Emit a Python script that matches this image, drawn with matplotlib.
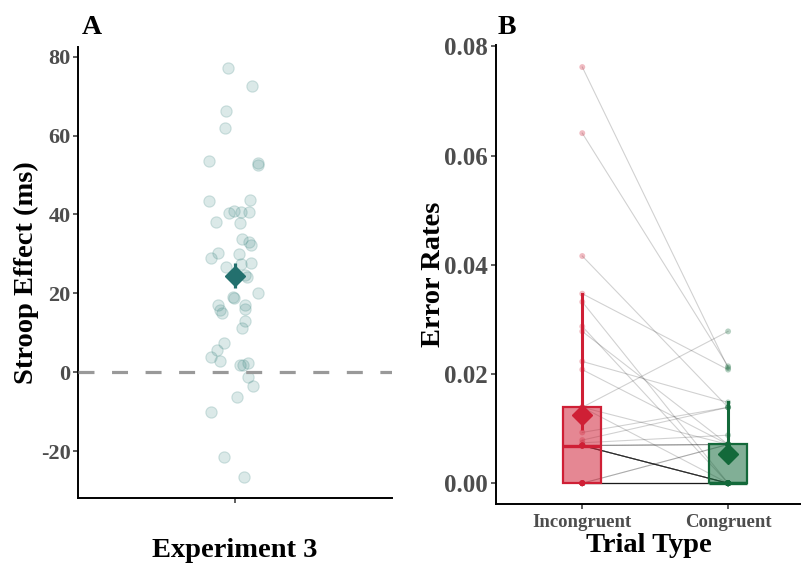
import numpy as np
import matplotlib.pyplot as plt

plt.rcParams['font.family'] = 'Liberation Serif'
plt.rcParams['font.weight'] = 'bold'
plt.rcParams['axes.labelweight'] = 'bold'
plt.rcParams['axes.unicode_minus'] = False

# Panel A: Stroop effect per participant (ms) and horizontal jitter
stroop = [77.1, 72.7, 66.3, 62.0, 53.6, 53.0, 52.5, 43.5, 43.7, 40.5,
          40.8, 40.7, 40.7, 38.2, 37.9, 33.7, 32.9, 32.3, 30.2, 29.0,
          29.9, 26.7, 27.6, 27.5, 24.6, 24.2, 20.2, 19.1, 18.7, 17.0,
          15.9, 15.1, 17.0, 16.0, 13.1, 11.1, 7.3, 5.6, 3.9, 2.9,
          1.8, 1.8, 2.4, -1.2, -3.4, -6.3, -10.1, -21.6, -26.6]
jitter = [-0.027, 0.066, -0.032, -0.036, -0.097, 0.087, 0.089, -0.098, 0.057, -0.023,
          -0.004, 0.024, 0.055, -0.074, 0.019, 0.028, 0.055, 0.060, -0.064, -0.092,
          0.016, -0.032, 0.061, 0.022, 0.038, 0.045, 0.089, -0.009, -0.004, -0.064,
          -0.055, -0.049, 0.038, 0.039, 0.038, 0.029, -0.041, -0.068, -0.091, -0.056,
          0.019, 0.032, 0.049, 0.052, 0.070, 0.010, -0.092, -0.043, 0.036]

# Panel B: error rates per participant (paired)
trial_types = ['Incongruent', 'Congruent']
err_incong = [0.0762, 0.0641, 0.0416, 0.0347, 0.0332, 0.0287, 0.0278, 0.0223, 0.0208, 0.0139,
              0.0139, 0.0139, 0.0093, 0.0079, 0.0074] + [0.0069] * 12 + [0.0] * 13
err_cong = [0.0211, 0.0214, 0.0139, 0.0208, 0.0, 0.0, 0.0071, 0.0148, 0.0071, 0.0278,
            0.0, 0.0071, 0.0139, 0.0139, 0.0088] + [0.0071] * 3 + [0.0] * 9 + [0.0071] * 2 + [0.0] * 11

teal = '#23706e'
red = '#cf1f35'
green = '#13693a'
tick_grey = '#4d4d4d'

fig = plt.figure(figsize=(8.01, 5.65), dpi=100)

# ---------- Panel A ----------
axA = fig.add_axes([0.0974, 0.1186, 0.3916, 0.7984])
xA = 1 + np.array(jitter)
axA.scatter(xA, stroop, s=66, facecolor=(0.23, 0.52, 0.50, 0.18),
            edgecolor=(0.23, 0.52, 0.50, 0.22), linewidth=0.8, zorder=2)
axA.axhline(0, color='#999999', lw=2.3, dashes=(5, 5.5), zorder=3)
mA = np.mean(stroop)
seA = np.std(stroop, ddof=1) / np.sqrt(len(stroop))
axA.errorbar([1], [mA], yerr=[seA], fmt='D', color=teal, ms=10, elinewidth=2.3,
             capsize=0, zorder=4)

axA.set_xlim(0.4, 1.6)
axA.set_ylim(-31.9, 82.5)
axA.set_yticks([-20, 0, 20, 40, 60, 80])
axA.set_xticks([1])
axA.set_xticklabels([''])
axA.set_ylabel('Stroop Effect (ms)', fontsize=20.5, labelpad=1)
axA.set_xlabel('Experiment 3', fontsize=20.5, labelpad=21)

# ---------- Panel B ----------
axB = fig.add_axes([0.619, 0.108, 0.381, 0.812])
for a, b in zip(err_incong, err_cong):
    axB.plot([1, 2], [a, b], color='black', alpha=0.18, lw=0.8, zorder=1)

bp = axB.boxplot([err_incong, err_cong], positions=[1, 2], widths=0.26,
                 patch_artist=True, showfliers=False, whis=1.5, zorder=2)
for i, col in enumerate([red, green]):
    bp['boxes'][i].set_facecolor(col + '88')
    bp['boxes'][i].set_edgecolor(col)
    bp['boxes'][i].set_linewidth(1.6)
    bp['medians'][i].set_color(col)
    bp['medians'][i].set_linewidth(2.4)
    for w in bp['whiskers'][2 * i:2 * i + 2]:
        w.set_color(col)
        w.set_linewidth(2.2)
    for c in bp['caps'][2 * i:2 * i + 2]:
        c.set_visible(False)

axB.scatter([1] * len(err_incong), err_incong, s=18, color=red, alpha=0.3,
            edgecolor='none', zorder=3)
axB.scatter([2] * len(err_cong), err_cong, s=18, color=green, alpha=0.3,
            edgecolor='none', zorder=3)

for x, vals, col in [(1, err_incong, red), (2, err_cong, green)]:
    m = np.mean(vals)
    se = np.std(vals, ddof=1) / np.sqrt(len(vals))
    axB.errorbar([x], [m], yerr=[se], fmt='D', color=col, ms=10, elinewidth=2.2,
                 capsize=0, zorder=4)

axB.set_xlim(0.407, 2.5)
axB.set_ylim(-0.0038, 0.0802)
axB.set_yticks([0.0, 0.02, 0.04, 0.06, 0.08])
axB.set_yticklabels(['0.00', '0.02', '0.04', '0.06', '0.08'])
axB.set_xticks([1, 2])
axB.set_xticklabels(trial_types)
axB.set_ylabel('Error Rates', fontsize=20.5, labelpad=-1)
axB.set_xlabel('Trial Type', fontsize=20.5, labelpad=1)

for ax, ysize, xsize in [(axA, 16, 13.5), (axB, 18, 13.5)]:
    ax.spines['top'].set_visible(False)
    ax.spines['right'].set_visible(False)
    ax.spines['left'].set_linewidth(1.4)
    ax.spines['bottom'].set_linewidth(1.4)
    ax.tick_params(axis='both', length=3.5, width=1.1, color='#333333')
    ax.tick_params(axis='y', labelsize=ysize, labelcolor=tick_grey, pad=2)
    ax.tick_params(axis='x', labelsize=xsize, labelcolor=tick_grey, pad=4)

fig.text(92 / 801, 1 - 27 / 565, 'A', fontsize=20, ha='center', va='center')
fig.text(507 / 801, 1 - 27 / 565, 'B', fontsize=20, ha='center', va='center')

fig.savefig('out.png', dpi=100)
